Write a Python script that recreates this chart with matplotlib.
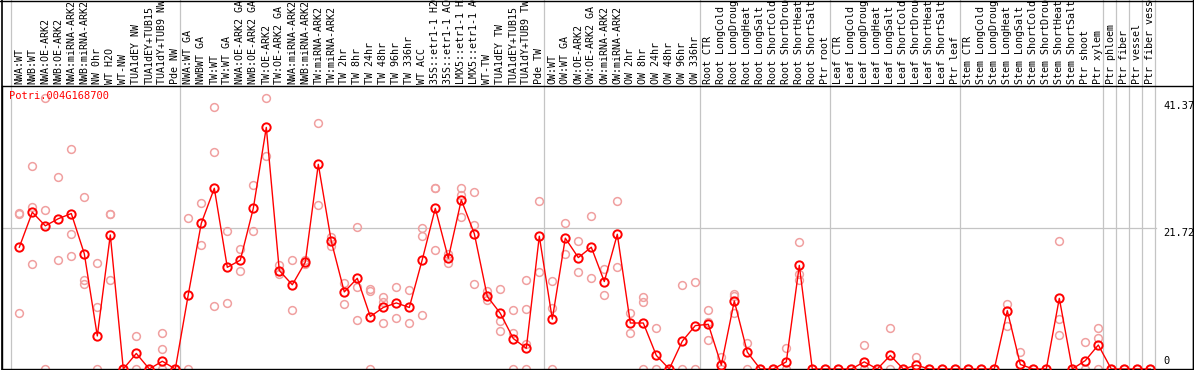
import matplotlib
matplotlib.use("Agg")
import matplotlib.pyplot as plt
from matplotlib.lines import Line2D
import numpy as np

# sample labels, left to right
labels = [
    "NWA:WT", "NWB:WT", "NWA:OE-ARK2", "NWB:OE-ARK2", "NWA:miRNA-ARK2", "NWB:miRNA-ARK2",
    "NW 0hr", "WT H2O", "WT-NW", "TUA1dEY NW", "TUA1dEY+TUB15", "TUA1dY+TUB9 NW", "Pde NW",
    "NWA:WT GA", "NWBWT GA", "TW:WT", "TW:WT GA", "NWA:OE-ARK2 GA", "NWB:OE-ARK2 GA",
    "TW:OE-ARK2", "TW:OE-ARK2 GA", "NWA:miRNA-ARK2", "NWB:miRNA-ARK2", "TW:miRNA-ARK2",
    "TW:miRNA-ARK2", "TW 2hr", "TW 8hr", "TW 24hr", "TW 48hr", "TW 96hr", "TW 336hr",
    "WT ACC", "35S::etr1-1 H2O", "35S::etr1-1 ACC", "LMX5::etr1-1 H2O", "LMX5::etr1-1 ACC",
    "WT-TW", "TUA1dEY TW", "TUA1dEY+TUB15", "TUA1dY+TUB9 TW", "Pde TW",
    "OW:WT", "OW:WT GA", "OW:OE-ARK2", "OW:OE-ARK2 GA", "OW:miRNA-ARK2", "OW:miRNA-ARK2",
    "OW 2hr", "OW 8hr", "OW 24hr", "OW 48hr", "OW 96hr", "OW 336hr",
    "Root CTR", "Root LongCold", "Root LongDrought", "Root LongHeat", "Root LongSalt",
    "Root ShortCold", "Root ShortDrought", "Root ShortHeat", "Root ShortSalt", "Ptr root",
    "Leaf CTR", "Leaf LongCold", "Leaf LongDrought", "Leaf LongHeat", "Leaf LongSalt",
    "Leaf ShortCold", "Leaf ShortDrought", "Leaf ShortHeat", "Leaf ShortSalt", "Ptr leaf",
    "Stem CTR", "Stem LongCold", "Stem LongDrought", "Stem LongHeat", "Stem LongSalt",
    "Stem ShortCold", "Stem ShortDrought", "Stem ShortHeat", "Stem ShortSalt", "Ptr shoot",
    "Ptr xylem", "Ptr phloem", "Ptr fiber", "Ptr vessel", "Ptr fiber vessel",
]

# mean expression per sample (red line)
means = [
    18.8, 24.2, 22.1, 23.2, 24.0, 17.8, 5.1, 20.7, 0, 2.4, 0, 1.2, 0,
    11.5, 22.5, 27.9, 15.7, 16.8, 24.8, 37.3, 15.2, 13.0, 16.5, 31.6, 19.7,
    11.9, 14.0, 8.1, 9.5, 10.2, 9.5, 16.9, 24.8, 17.1, 26.1, 20.9, 11.2,
    8.6, 4.7, 3.2, 20.5,
    7.7, 20.2, 17.2, 18.8, 13.5, 20.8, 7.1, 7.1, 2.1, 0, 4.3, 6.7,
    6.9, 0.6, 10.5, 2.6, 0, 0, 1.1, 16.0, 0, 0,
    0, 0, 1.1, 0, 2.1, 0, 0.6, 0, 0, 0,
    0, 0, 0, 9.0, 0.7, 0, 0, 10.9, 0, 1.3, 3.7,
    0, 0, 0, 0,
]

# individual replicates (pink circles)
reps = [
    [24.1, 23.9, 8.6], [31.3, 25.0, 16.2], [41.8, 24.5, 0], [29.6, 16.8],
    [33.9, 20.8, 17.4], [26.5, 13.7, 13.1], [16.4, 9.5, 0], [24.0, 23.9, 13.8],
    [0], [5.1, 0], [0], [5.5, 3.1, 0], [0],
    [23.3, 0], [25.7, 19.2], [40.4, 33.5, 9.8], [21.3, 10.2], [18.5, 15.1],
    [28.4, 21.3], [41.8, 32.9], [16.1, 14.6], [16.8, 9.1], [16.8, 16.2],
    [37.9, 25.3], [20.4, 19.0], [13.3, 10.0], [21.9, 12.6, 7.5], [12.3, 12.1, 0],
    [11.1, 10.4, 7.1], [12.6, 7.9], [12.2, 7.1], [21.8, 20.6, 8.4],
    [28.0, 27.9, 18.3], [17.8, 16.4], [27.9, 26.9, 23.4], [27.3, 22.3, 13.1],
    [12.1, 10.6], [12.3, 7.4, 5.9], [9.1, 5.5, 0], [13.7, 9.2, 3.8, 0], [25.9, 14.9],
    [13.6, 9.4, 0], [22.5, 17.8], [19.7, 14.9], [23.6, 14.0], [15.5, 11.5],
    [25.9, 15.7], [8.6, 5.5], [11.1, 10.4, 0], [6.4, 0], [0], [13.0, 0], [13.5, 0],
    [9.1, 7.2, 4.4], [1.9, 0], [11.6, 11.3, 8.6], [4.0, 0], [0], [0], [3.2, 0],
    [19.6, 14.6, 13.8], [0], [0],
    [0], [0], [3.7, 0], [0], [6.4, 0], [0], [1.8, 0], [0], [0], [0],
    [0], [0], [0], [10.0, 6.7], [2.6], [0], [0], [19.8, 7.7, 5.2], [0],
    [4.1, 0], [6.3, 4.8, 0],
    [0], [0], [0], [0],
]

gene = "Potri.004G168700"
ymax_label = 41.37
ymid_label = 21.72
# separators after these sample positions
group_ends = [0, 13, 41, 53, 63, 73, 84, 85, 86, 87, 88]

x = np.arange(1, len(labels) + 1)

W, H = 1194, 370
fig = plt.figure(figsize=(W / 100, H / 100), dpi=100)
ax = fig.add_axes([2 / W, 1 / H, (1193 - 2) / W, (369 - 86) / H])

xl = 1 + (2 - 19.3) / 13.0
xr = 1 + (1193 - 19.3) / 13.0
ax.set_xlim(xl, xr)
ax.set_ylim(0, (369 - 86) / 6.478)
ax.set_xticks([])
ax.set_yticks([])
for s in ax.spines.values():
    s.set_color("black")
    s.set_linewidth(1.0)

grey = "#c4c4c4"
top_frac = (369 - 0) / (369 - 86)
for g in group_ends:
    ax.axvline(g + 0.35, ymin=0, ymax=top_frac, color=grey, lw=0.9,
               clip_on=False, zorder=1)
ax.plot([xl, 88.45], [ymid_label, ymid_label], color=grey, lw=0.9, zorder=1)

mono = "DejaVu Sans Mono"
for xi, lab in zip(x, labels):
    ax.text(xi, 1.0 + 2.5 / 283, lab, rotation=90, ha="center", va="bottom",
            fontsize=7.2, family=mono, transform=ax.get_xaxis_transform(),
            clip_on=False)

# replicates
rx, ry = [], []
for xi, r in zip(x, reps):
    rx += [xi] * len(r)
    ry += r
ax.plot(rx, ry, ls="none", marker="o", ms=5.6, mfc="none", mec="#f0a0a0",
        mew=1.1, zorder=2)

# mean line
ax.plot(x, means, color="red", lw=1.0, marker="o", ms=6, mfc="none",
        mec="red", mew=1.4, zorder=3)

ax.text(0.22, 42.95, gene, color="red", fontsize=7.5, family=mono,
        ha="left", va="top", zorder=4)

xr_lab = 1 + (1163 - 19.3) / 13.0
ax.text(xr_lab, ymax_label, "%.2f" % ymax_label, fontsize=7.5, family=mono,
        ha="left", va="top")
ax.text(xr_lab, ymid_label, "%.2f" % ymid_label, fontsize=7.5, family=mono,
        ha="left", va="top")
ax.text(xr_lab, 0.4, "0", fontsize=7.5, family=mono, ha="left", va="bottom")

# outer frame top edge
fig.add_artist(Line2D([0, 1], [1 - 0.5 / H, 1 - 0.5 / H], color="black", lw=1.0))
fig.add_artist(Line2D([1.5 / W, 1.5 / W], [0, 1], color="black", lw=1.2))
fig.add_artist(Line2D([1 - 0.8 / W, 1 - 0.8 / W], [0, 1], color="black", lw=1.0))

fig.savefig("out.png", dpi=100)
